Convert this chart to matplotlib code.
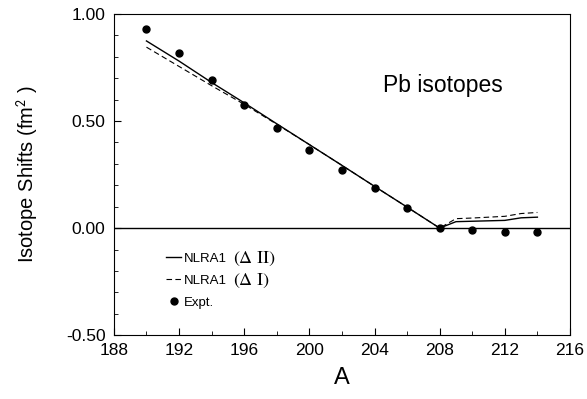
import matplotlib.pyplot as plt
from matplotlib.ticker import MultipleLocator, FormatStrFormatter

plt.rcParams['font.family'] = ['Liberation Sans', 'DejaVu Sans']
plt.rcParams['mathtext.fontset'] = 'stix'

# model curves (NLRA1)
A_calc = [190, 192, 194, 196, 198, 200, 202, 204, 206, 208, 209, 210, 212, 213, 214]
shift_dII = [0.874, 0.78, 0.68, 0.585, 0.487, 0.39, 0.293, 0.195, 0.098, 0.0,
             0.030, 0.032, 0.036, 0.048, 0.051]
shift_dI = [0.845, 0.755, 0.665, 0.578, 0.485, 0.39, 0.293, 0.195, 0.098, 0.0,
            0.044, 0.047, 0.055, 0.068, 0.073]

# experiment
A_expt = [190, 192, 194, 196, 198, 200, 202, 204, 206, 208, 210, 212, 214]
shift_expt = [0.93, 0.82, 0.69, 0.576, 0.469, 0.364, 0.271, 0.185, 0.092, 0.0,
              -0.011, -0.02, -0.02]

fig = plt.figure(figsize=(5.87, 3.99), dpi=100)
ax = fig.add_axes([0.194, 0.160, 0.777, 0.805])

ax.axhline(0, color='black', lw=1.0)
ax.plot(A_calc, shift_dII, '-', color='black', lw=1.0, label='NLRA1')
ax.plot(A_calc, shift_dI, '--', color='black', lw=0.8, dashes=(5, 3), label='NLRA1')
ax.plot(A_expt, shift_expt, 'o', color='black', ms=5, label='Expt.')

ax.set_xlim(188, 216)
ax.set_ylim(-0.5, 1.0)
ax.xaxis.set_major_locator(MultipleLocator(4))
ax.xaxis.set_minor_locator(MultipleLocator(2))
ax.yaxis.set_major_locator(MultipleLocator(0.5))
ax.yaxis.set_minor_locator(MultipleLocator(0.1))
ax.yaxis.set_major_formatter(FormatStrFormatter('%.2f'))
ax.tick_params(which='both', direction='in', labelsize=12.5, top=False, right=False, pad=6)
ax.tick_params(which='major', length=5)
ax.tick_params(which='minor', length=3)

ax.set_xlabel('A', fontsize=17, labelpad=6)
ax.set_ylabel(r'Isotope Shifts (fm$^{\mathsf{2}}$ )', fontsize=14.5)
ax.yaxis.set_label_coords(-0.16, 0.5)

ax.text(208.2, 0.668, 'Pb isotopes', fontsize=16.5, ha='center', va='center')

leg = ax.legend(loc='lower left', bbox_to_anchor=(0.115, 0.083), frameon=False,
                fontsize=9.5, handlelength=1.1, handletextpad=0.2, labelspacing=0.72,
                borderaxespad=0, borderpad=0)

# the Delta part of the labels is set in a larger serif face, right after "NLRA1"
fig.canvas.draw()
inv = ax.transAxes.inverted()
for t, extra in zip(leg.get_texts()[:2], [r'$(\Delta\ \mathrm{II})$', r'$(\Delta\ \mathrm{I})$']):
    bb = t.get_window_extent()
    x0, y0 = inv.transform((bb.x1 + 7, (bb.y0 + bb.y1) / 2))
    ax.text(x0, y0, extra, transform=ax.transAxes, fontsize=13, ha='left', va='center')

fig.savefig('out.png', dpi=100)
